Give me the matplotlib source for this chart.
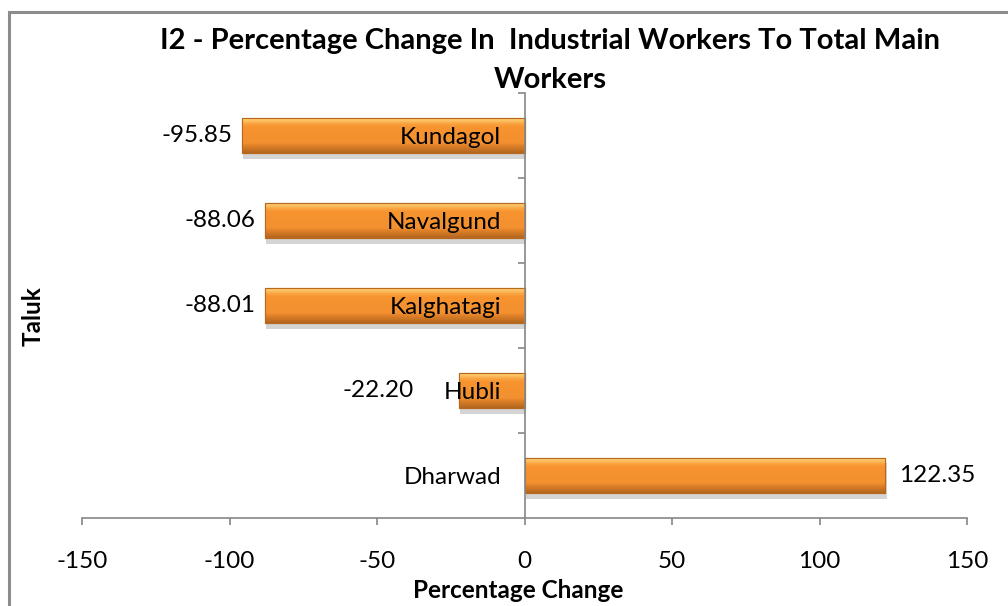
import matplotlib
matplotlib.use('Agg')
import matplotlib.pyplot as plt
import numpy as np
from matplotlib.colors import LinearSegmentedColormap
from matplotlib.patches import Rectangle
import matplotlib.patheffects as pe

# ---- data ----
taluks = ['Dharwad', 'Hubli', 'Kalghatagi', 'Navalgund', 'Kundagol']
pct_change = [122.35, -22.20, -88.01, -88.06, -95.85]
x_ticks = [-150, -100, -50, 0, 50, 100, 150]
title_text = 'I2 - Percentage Change In  Industrial Workers To Total Main\nWorkers'
x_label = 'Percentage Change'
y_label = 'Taluk'

plt.rcParams['font.family'] = ['Lato', 'DejaVu Sans']
W, H = 1008, 606
fig = plt.figure(figsize=(W / 100, H / 100), dpi=100)
fig.patch.set_facecolor('white')

# outer chart frame (cut at right/bottom as in the reference)
fig.patches.append(Rectangle((8.5 / W, -0.1), 1.2, 1 - 12 / H + 0.1,
                             transform=fig.transFigure, fill=False,
                             edgecolor='#8c8c8c', linewidth=2.2))

ax = fig.add_axes([82 / W, 88 / H, 885 / W, 425 / H])
gray = '#868686'

ypos = np.arange(len(taluks))
bars = ax.barh(ypos, pct_change, height=0.42, color='#F7922E',
               edgecolor='#B8691F', linewidth=0.8, zorder=2)
for b in bars:
    b.set_path_effects([pe.SimplePatchShadow(offset=(1, -4), shadow_rgbFace='#666666', alpha=0.28),
                        pe.Normal()])

cmap = LinearSegmentedColormap.from_list('bev', [
    (0.00, '#F6AE55'), (0.07, '#FDCB6E'), (0.17, '#F9A543'),
    (0.27, '#F7942F'), (0.72, '#F39030'), (0.82, '#DB7E28'), (1.00, '#B4671F')])
grad = np.linspace(0, 1, 64).reshape(-1, 1)
for b in bars:
    x0, y0 = b.get_x(), b.get_y()
    x1, y1 = x0 + b.get_width(), y0 + b.get_height()
    im = ax.imshow(grad, extent=(min(x0, x1), max(x0, x1), y0, y1), origin='upper',
                   aspect='auto', cmap=cmap, zorder=2.1, interpolation='bilinear')
    im.set_clip_path(b)
    ax.add_patch(Rectangle((x0, y0), x1 - x0, y1 - y0, fill=False,
                           edgecolor='#B8691F', linewidth=0.8, zorder=2.2))

ax.set_xlim(-150, 150)
ax.set_ylim(-0.5, len(taluks) - 0.5)

for s in ['top', 'right']:
    ax.spines[s].set_visible(False)
ax.spines['left'].set_position(('data', 0))
ax.spines['left'].set_color(gray)
ax.spines['left'].set_zorder(2.3)
ax.spines['bottom'].set_color(gray)
ax.spines['left'].set_linewidth(1.2)
ax.spines['bottom'].set_linewidth(1.2)

ax.set_xticks(x_ticks)
ax.set_xticklabels([str(t) for t in x_ticks])
ax.tick_params(axis='x', direction='out', length=5, width=1.2, color=gray,
               labelsize=17.5, pad=19, labelcolor='black')

ax.set_yticks(ypos)
ax.set_yticklabels(taluks)
ax.set_yticks(np.arange(len(taluks)) + 0.5, minor=True)
ax.tick_params(axis='y', which='major', length=0, pad=17, labelsize=17.5)
ax.tick_params(axis='y', which='minor', direction='out', length=5, width=1.2, color=gray)
ax.yaxis.set_zorder(5)

# value labels
fig.canvas.draw()
renderer = fig.canvas.get_renderer()
ticklabels = ax.get_yticklabels()
for i, v in enumerate(pct_change):
    if v >= 0:
        ax.annotate(f'{v:.2f}', (v, i), xytext=(14, 0), textcoords='offset pixels',
                    ha='left', va='center', fontsize=17.5)
    else:
        bar_px = ax.transData.transform((v, i))[0]
        lab_left = ticklabels[i].get_window_extent(renderer).x0
        right_px = min(bar_px - 9, lab_left - 30)
        x_data = ax.transData.inverted().transform((right_px, 0))[0]
        ax.annotate(f'{v:.2f}', (x_data, i), ha='right', va='center', fontsize=17.5)

fig.text(550 / W, 1 - 28 / H, title_text, ha='center', va='top', fontsize=21,
         fontweight='bold', linespacing=1.6)
fig.text(518 / W, 1 - 591 / H, x_label, ha='center', va='center', fontsize=17.5,
         fontweight='bold')
fig.text(33 / W, 1 - 316 / H, y_label, ha='center', va='center', fontsize=17.5,
         fontweight='bold', rotation=90)

fig.savefig('out.png', dpi=100)
